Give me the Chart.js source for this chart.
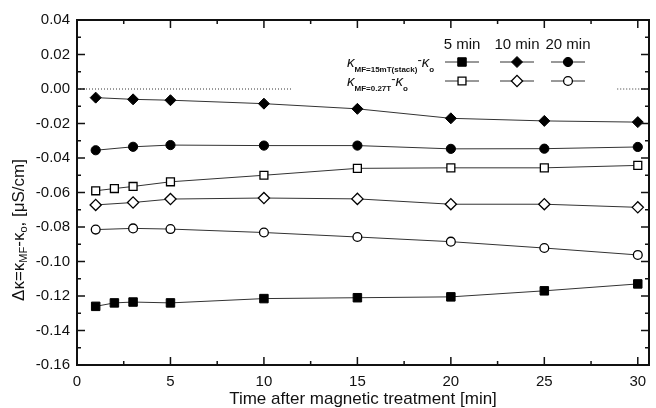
<!DOCTYPE html>
<html>
<head>
<meta charset="utf-8">
<script src="https://cdn.jsdelivr.net/npm/chart.js@4/dist/chart.umd.min.js"></script>
<style>
  html, body { margin: 0; padding: 0; background: #fff; }
  #wrap { width: 656px; height: 408px; }
</style>
</head>
<body>
<div id="wrap"><canvas id="myChart"></canvas></div>
<script>
// time after magnetic treatment [min]
const timesSquare = [1, 2, 3, 5, 10, 15, 20, 25, 30];
const times = [1, 3, 5, 10, 15, 20, 25, 30];

// kappa(MF=15mT stack) - kappa0
const stack5 = [-0.126, -0.124, -0.1235, -0.124, -0.1215, -0.121, -0.1205, -0.117, -0.113];
const stack10 = [-0.005, -0.006, -0.0065, -0.0085, -0.0115, -0.017, -0.0185, -0.0192];
const stack20 = [-0.0355, -0.0335, -0.0325, -0.0328, -0.0328, -0.0347, -0.0346, -0.0336];

// kappa(MF=0.27T) - kappa0
const single5 = [-0.059, -0.0577, -0.0565, -0.0538, -0.05, -0.046, -0.0457, -0.0457, -0.0443];
const single10 = [-0.0672, -0.0658, -0.0638, -0.0632, -0.0637, -0.0668, -0.0668, -0.0686];
const single20 = [-0.0815, -0.0808, -0.0812, -0.0832, -0.0858, -0.0885, -0.0922, -0.0962];

// dotted zero reference (hidden behind the legend in the middle)
const zeroLeft = [0, 11.5];
const zeroRight = [28.9, 30.6];

const xTicks = [0, 5, 10, 15, 20, 25, 30];
const yTicks = [0.04, 0.02, 0.00, -0.02, -0.04, -0.06, -0.08, -0.10, -0.12, -0.14, -0.16];
const legendHeads = ['5 min', '10 min', '20 min'];

const FONT = 'Liberation Sans, Arial, sans-serif';
const INK = '#111';

function pts(xs, ys) {
    return xs.map((t, i) => ({ x: t, y: ys[i] }));
}

// marker styles per series
const markers = {
    stack5:   { pointStyle: 'rect',    radius: 6,   fill: '#000', border: 1 },
    stack10:  { pointStyle: 'rectRot', radius: 5.5, fill: '#000', border: 1 },
    stack20:  { pointStyle: 'circle',  radius: 4.6, fill: '#000', border: 1 },
    single5:  { pointStyle: 'rect',    radius: 5.6, fill: '#fff', border: 1.3 },
    single10: { pointStyle: 'rectRot', radius: 5.6, fill: '#fff', border: 1.3 },
    single20: { pointStyle: 'circle',  radius: 4.4, fill: '#fff', border: 1.3 }
};

function series(label, xs, ys, m) {
    return {
        label: label,
        data: pts(xs, ys),
        borderColor: '#333',
        borderWidth: 1,
        pointStyle: m.pointStyle,
        pointRadius: m.radius,
        pointBackgroundColor: m.fill,
        pointBorderColor: '#000',
        pointBorderWidth: m.border
    };
}

function zeroLine(xs) {
    return {
        label: 'zero',
        data: xs.map(t => ({ x: t, y: 0 })),
        borderColor: '#333',
        borderWidth: 1,
        borderDash: [1, 2],
        pointRadius: 0
    };
}

// frame, inward ticks, axis titles and the hand-made legend
const decorations = {
    id: 'decorations',
    afterDraw(chart) {
        const { ctx, chartArea: a, scales: { x, y } } = chart;
        ctx.save();
        ctx.strokeStyle = INK;
        ctx.lineWidth = 2;
        ctx.strokeRect(a.left, a.top, a.right - a.left, a.bottom - a.top);

        ctx.lineWidth = 1.5;
        ctx.beginPath();
        for (let v = 0; v <= 30; v += 2.5) {
            const px = x.getPixelForValue(v);
            const len = v % 5 === 0 ? 8 : 4;
            ctx.moveTo(px, a.bottom); ctx.lineTo(px, a.bottom - len);
            ctx.moveTo(px, a.top); ctx.lineTo(px, a.top + len);
        }
        for (let i = 0; i <= 20; i++) {
            const py = y.getPixelForValue(-0.16 + i * 0.01);
            const len = i % 2 === 0 ? 8 : 4;
            ctx.moveTo(a.left, py); ctx.lineTo(a.left + len, py);
            ctx.moveTo(a.right, py); ctx.lineTo(a.right - len, py);
        }
        ctx.stroke();

        // x title
        ctx.fillStyle = INK;
        ctx.font = '17px ' + FONT;
        ctx.textAlign = 'center';
        ctx.textBaseline = 'middle';
        ctx.fillText('Time after magnetic treatment [min]', (a.left + a.right) / 2, 399);

        // y title with subscripts
        const parts = [
            ['Δκ=κ', 17, 0], ['MF', 11, 5], ['-κ', 17, 0], ['o', 11, 5], [', [μS/cm]', 17, 0]
        ];
        let total = 0;
        parts.forEach(p => { ctx.font = p[1] + 'px ' + FONT; total += ctx.measureText(p[0]).width; });
        ctx.save();
        ctx.translate(19, 230);
        ctx.rotate(-Math.PI / 2);
        ctx.textAlign = 'left';
        let cx = -total / 2;
        parts.forEach(p => {
            ctx.font = p[1] + 'px ' + FONT;
            ctx.fillText(p[0], cx, p[2]);
            cx += ctx.measureText(p[0]).width;
        });
        ctx.restore();

        // legend
        const cols = [462, 517, 568];
        const rows = [62, 81];
        ctx.textAlign = 'center';
        ctx.font = '15px ' + FONT;
        legendHeads.forEach((h, i) => ctx.fillText(h, cols[i], 45));

        const rowKeys = [['stack5', 'stack10', 'stack20'], ['single5', 'single10', 'single20']];
        rowKeys.forEach((keys, r) => {
            keys.forEach((k, c) => {
                const m = markers[k];
                ctx.strokeStyle = '#333';
                ctx.lineWidth = 1;
                ctx.beginPath();
                ctx.moveTo(cols[c] - 17, rows[r]); ctx.lineTo(cols[c] + 17, rows[r]);
                ctx.stroke();
                ctx.fillStyle = m.fill;
                ctx.strokeStyle = '#000';
                ctx.lineWidth = m.border;
                Chart.helpers.drawPoint(ctx, { pointStyle: m.pointStyle, radius: m.radius, rotation: 0, borderWidth: m.border }, cols[c], rows[r]);
            });
        });

        const labels = [
            [['κ', 'italic 15px', 0], ['MF=15mT(stack)', 'bold 8px', 5], ['-', '13px', -3], ['κ', 'italic 15px', 0], ['o', 'bold 8px', 5]],
            [['κ', 'italic 15px', 0], ['MF=0.27T', 'bold 8px', 5], ['-', '13px', -3], ['κ', 'italic 15px', 0], ['o', 'bold 8px', 5]]
        ];
        ctx.fillStyle = INK;
        ctx.textAlign = 'left';
        ctx.textBaseline = 'alphabetic';
        labels.forEach((parts2, r) => {
            let lx = 347;
            const base = rows[r] + 5;
            parts2.forEach(p => {
                ctx.font = p[1] + ' ' + FONT;
                ctx.fillText(p[0], lx, base + p[2]);
                lx += ctx.measureText(p[0]).width;
            });
        });
        ctx.restore();
    }
};

new Chart(document.getElementById('myChart').getContext('2d'), {
    type: 'line',
    data: {
        datasets: [
            zeroLine(zeroLeft),
            zeroLine(zeroRight),
            series('stack 10 min', times, stack10, markers.stack10),
            series('stack 20 min', times, stack20, markers.stack20),
            series('0.27T 5 min', timesSquare, single5, markers.single5),
            series('0.27T 10 min', times, single10, markers.single10),
            series('0.27T 20 min', times, single20, markers.single20),
            series('stack 5 min', timesSquare, stack5, markers.stack5)
        ]
    },
    options: {
        responsive: true,
        maintainAspectRatio: false,
        animation: false,
        layout: { padding: { top: 20, right: 3, left: 0, bottom: 0 } },
        plugins: {
            legend: { display: false },
            tooltip: { enabled: false }
        },
        scales: {
            x: {
                type: 'linear',
                min: 0,
                max: 30.6,
                afterBuildTicks: s => { s.ticks = xTicks.map(v => ({ value: v })); },
                afterFit: s => { s.height = 43; },
                grid: { display: false, drawTicks: false },
                border: { display: false },
                ticks: {
                    color: INK,
                    font: { family: FONT, size: 15 },
                    padding: 8,
                    maxRotation: 0,
                    autoSkip: false
                }
            },
            y: {
                min: -0.16,
                max: 0.04,
                afterBuildTicks: s => { s.ticks = yTicks.map(v => ({ value: v })); },
                afterFit: s => { s.width = 77; },
                grid: { display: false, drawTicks: false },
                border: { display: false },
                ticks: {
                    color: INK,
                    font: { family: FONT, size: 15 },
                    padding: 7,
                    autoSkip: false,
                    callback: v => v.toFixed(2)
                }
            }
        }
    },
    plugins: [decorations]
});
</script>
</body>
</html>
